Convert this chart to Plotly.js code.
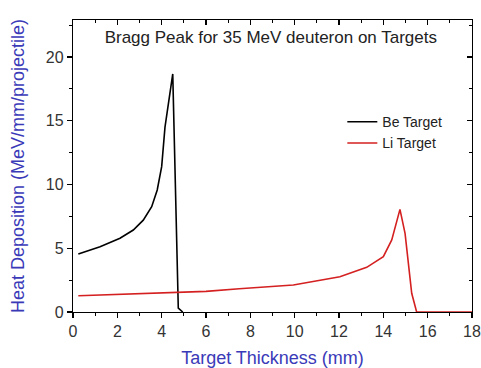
<!DOCTYPE html>
<html><head><meta charset="utf-8">
<script src="https://cdn.plot.ly/plotly-3.0.1.min.js"></script>
<style>body{margin:0;background:#fff}#c{width:481px;height:368px}</style>
</head><body><div id="c"></div>
<script>
const beX = [0.24, 1.22, 2.12, 2.72, 3.17, 3.55, 3.8, 4.0, 4.15, 4.3, 4.5, 4.75, 4.95];
const beY = [4.55, 5.12, 5.78, 6.43, 7.2, 8.26, 9.57, 11.4, 14.5, 16.4, 18.67, 0.3, 0];
const liX = [0.24, 2, 4, 6, 7.5, 9.94, 12.04, 13.25, 14.0, 14.38, 14.75, 14.98, 15.28, 15.5, 16, 18];
const liY = [1.28, 1.38, 1.5, 1.62, 1.82, 2.12, 2.77, 3.5, 4.34, 5.65, 8.05, 6.17, 1.47, 0.02, 0, 0];
const xTicks = [0, 2, 4, 6, 8, 10, 12, 14, 16, 18];
const yTicks = [0, 5, 10, 15, 20];
const seriesNames = ['Be Target', 'Li Target'];
const titleText = 'Bragg Peak for 35 MeV deuteron on Targets';
const xTitle = 'Target Thickness (mm)';
const yTitle = 'Heat Deposition (MeV/mm/projectile)';

const font = 'Liberation Sans, Arial, sans-serif';
const blue = '#3a3ab8';
const traces = [
  {x: beX, y: beY, name: seriesNames[0], mode: 'lines', line: {color: '#000', width: 1.6}},
  {x: liX, y: liY, name: seriesNames[1], mode: 'lines', line: {color: '#d42020', width: 1.6}},
  {x: [], y: [], xaxis: 'x2', yaxis: 'y2', showlegend: false, hoverinfo: 'skip'}
];
const axBase = {showgrid: false, zeroline: false, showline: true, linecolor: '#000', linewidth: 1.2,
  ticklen: 5, tickwidth: 1.2, tickcolor: '#000', tickfont: {family: font, size: 16, color: '#333'}};
const layout = {
  width: 481, height: 368,
  margin: {l: 73, r: 9, t: 20, b: 56},
  paper_bgcolor: '#fff', plot_bgcolor: '#fff',
  showlegend: true,
  legend: {x: 0.675, y: 0.705, xanchor: 'left', yanchor: 'top', bgcolor: 'rgba(0,0,0,0)',
    font: {family: font, size: 14, color: '#222'}, tracegroupgap: 0, itemwidth: 30},
  title: {text: titleText, x: 0.563, xanchor: 'center', y: 0.9, yanchor: 'middle', yref: 'container',
    font: {family: font, size: 17, color: '#222'}},
  xaxis: Object.assign({}, axBase, {range: [0, 18], tickvals: xTicks, ticks: 'outside',
    minor: {dtick: 1, ticks: 'outside', ticklen: 3, tickcolor: '#000'},
    title: {text: xTitle, font: {family: font, size: 18, color: blue}, standoff: 12}}),
  yaxis: Object.assign({}, axBase, {range: [0, 22.9], tickvals: yTicks, ticks: 'outside',
    minor: {dtick: 2.5, ticks: 'outside', ticklen: 3, tickcolor: '#000'},
    title: {text: yTitle, font: {family: font, size: 18, color: blue}, standoff: 16}}),
  xaxis2: Object.assign({}, axBase, {range: [0, 18], overlaying: 'x', side: 'top', anchor: 'y2',
    tickvals: xTicks, ticks: 'inside', showticklabels: false,
    minor: {dtick: 1, ticks: 'inside', ticklen: 3, tickcolor: '#000'}}),
  yaxis2: Object.assign({}, axBase, {range: [0, 22.9], overlaying: 'y', side: 'right', anchor: 'x2',
    tickvals: yTicks, ticks: 'inside', showticklabels: false,
    minor: {dtick: 2.5, ticks: 'inside', ticklen: 3, tickcolor: '#000'}})
};
Plotly.newPlot('c', traces, layout, {displayModeBar: false, staticPlot: true});
</script></body></html>
